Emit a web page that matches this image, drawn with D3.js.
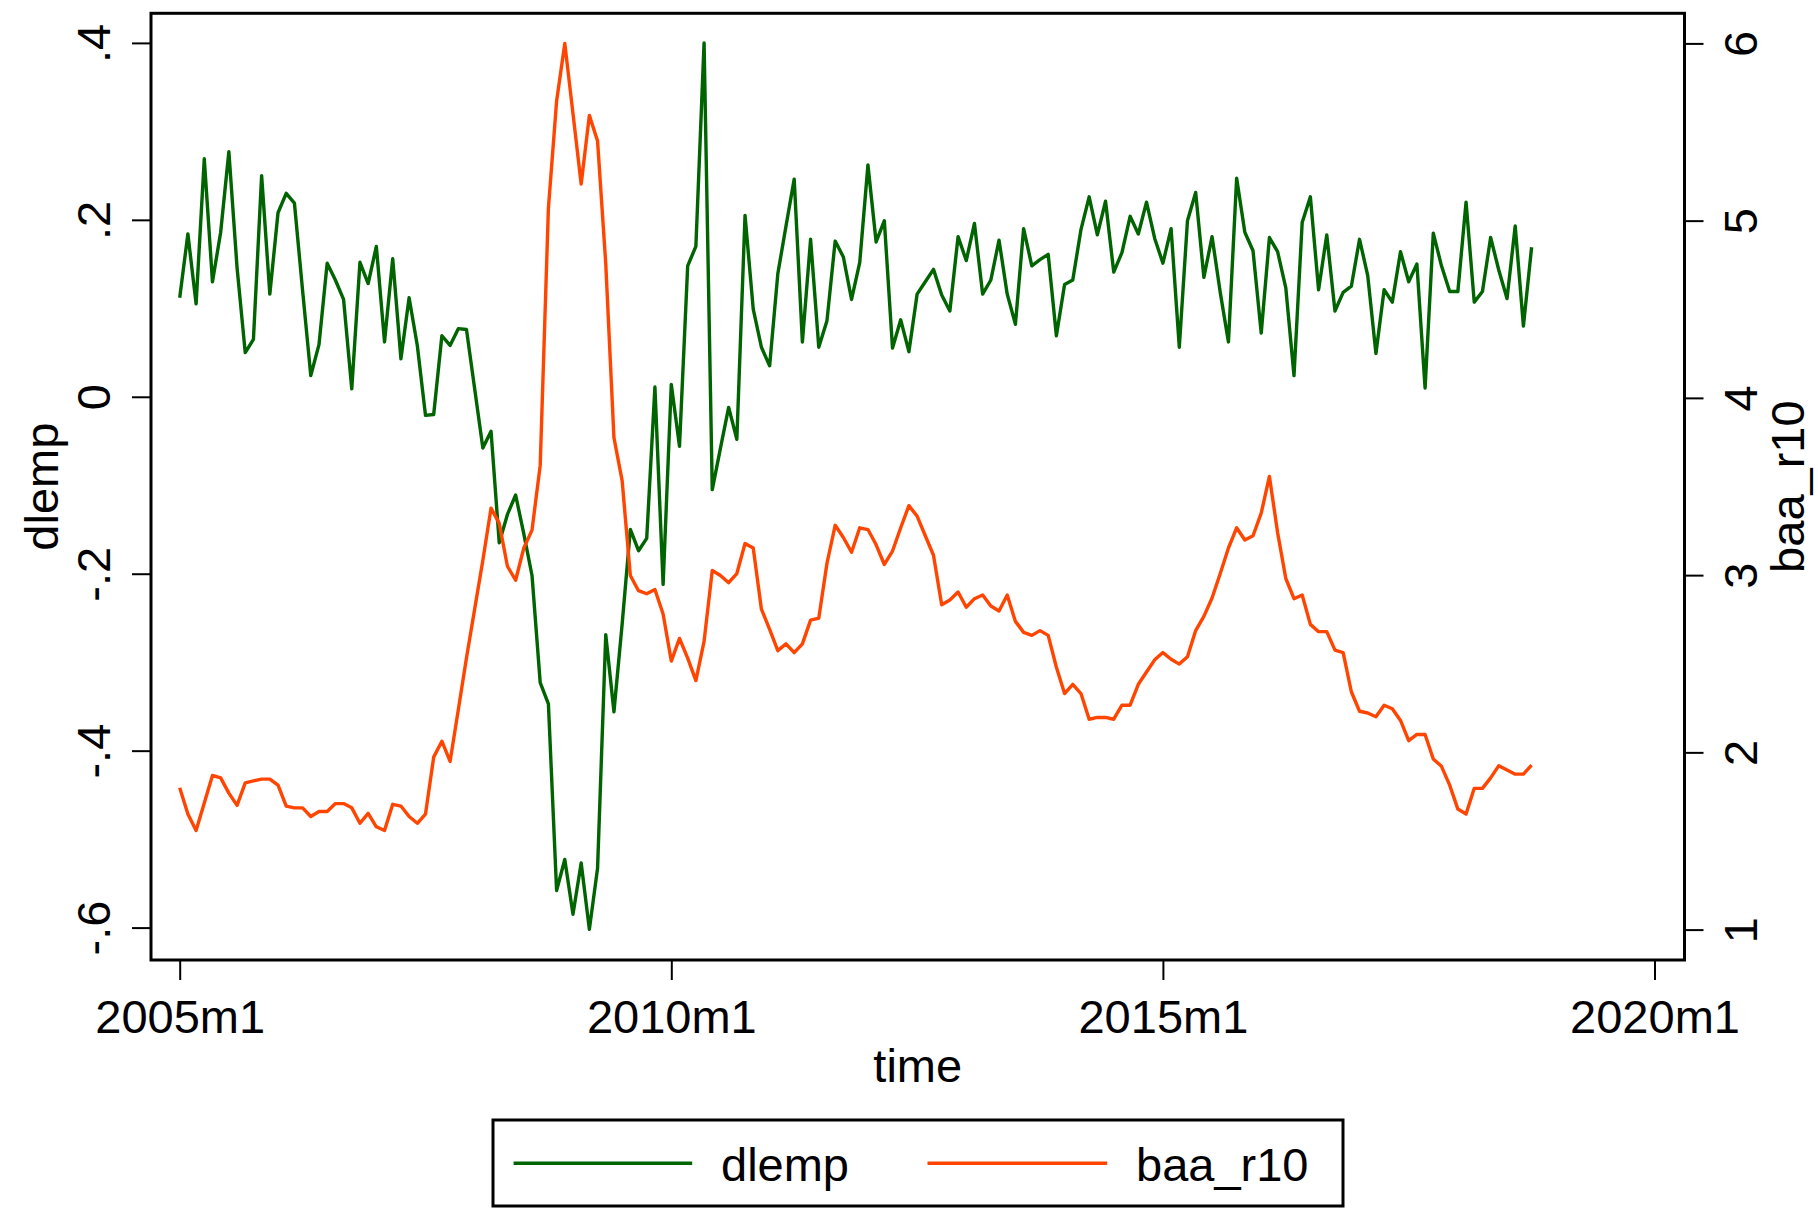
<!DOCTYPE html>
<html>
  <head>
  <meta charset="utf-8">
  <script src="https://cdnjs.cloudflare.com/ajax/libs/d3/7.8.5/d3.min.js" charset="utf-8"></script>
  <style>
    body { margin: 0; background: #fff; }
    text { font-family: "Liberation Sans", Arial, sans-serif; font-size: 47px; fill: #000; }
  </style>
  </head>
  <body>
    <div id="chart"></div>
	<script type="text/javascript">

		// monthly series, first observation 2005m1
		var startYear = 2005;
		var dlemp = [
			0.112, 0.184, 0.105, 0.269, 0.130, 0.186, 0.277, 0.146, 0.050, 0.065, 0.250, 0.116,
			0.208, 0.230, 0.219, 0.120, 0.024, 0.059, 0.151, 0.132, 0.110, 0.009, 0.152, 0.128,
			0.170, 0.062, 0.156, 0.043, 0.112, 0.058, -0.021, -0.020, 0.069, 0.058, 0.077, 0.076,
			0.009, -0.058, -0.039, -0.165, -0.133, -0.111, -0.155, -0.202, -0.323, -0.347, -0.558, -0.523,
			-0.585, -0.527, -0.602, -0.533, -0.269, -0.356, -0.257, -0.150, -0.174, -0.160, 0.011, -0.212,
			0.014, -0.056, 0.148, 0.170, 0.400, -0.105, -0.058, -0.012, -0.048, 0.205, 0.099, 0.056,
			0.035, 0.139, 0.193, 0.246, 0.062, 0.178, 0.056, 0.086, 0.176, 0.158, 0.110, 0.152,
			0.262, 0.175, 0.199, 0.055, 0.087, 0.051, 0.116, 0.130, 0.144, 0.115, 0.097, 0.181,
			0.154, 0.196, 0.116, 0.132, 0.177, 0.116, 0.082, 0.190, 0.148, 0.155, 0.161, 0.069,
			0.127, 0.132, 0.189, 0.226, 0.183, 0.221, 0.141, 0.163, 0.204, 0.184, 0.220, 0.179,
			0.151, 0.190, 0.056, 0.199, 0.231, 0.135, 0.181, 0.118, 0.062, 0.247, 0.186, 0.165,
			0.072, 0.180, 0.164, 0.123, 0.024, 0.197, 0.226, 0.121, 0.183, 0.097, 0.118, 0.125,
			0.178, 0.137, 0.049, 0.121, 0.107, 0.164, 0.130, 0.150, 0.010, 0.185, 0.148, 0.119,
			0.119, 0.220, 0.107, 0.119, 0.180, 0.143, 0.111, 0.193, 0.080, 0.169
		];
		var baa_r10 = [
			1.801, 1.652, 1.559, 1.714, 1.870, 1.856, 1.770, 1.701, 1.828, 1.839, 1.849, 1.849,
			1.815, 1.697, 1.687, 1.687, 1.638, 1.666, 1.666, 1.711, 1.711, 1.687, 1.600, 1.656,
			1.580, 1.559, 1.707, 1.697, 1.638, 1.600, 1.652, 1.973, 2.063, 1.949, 2.239, 2.532,
			2.808, 3.084, 3.378, 3.292, 3.050, 2.971, 3.153, 3.254, 3.619, 5.069, 5.673, 6.000,
			5.604, 5.207, 5.594, 5.449, 4.758, 3.775, 3.533, 2.998, 2.912, 2.895, 2.919, 2.781,
			2.515, 2.643, 2.532, 2.405, 2.626, 3.026, 2.998, 2.957, 3.009, 3.178, 3.153, 2.808,
			2.694, 2.574, 2.612, 2.563, 2.612, 2.746, 2.757, 3.067, 3.281, 3.212, 3.129, 3.267,
			3.257, 3.171, 3.060, 3.136, 3.267, 3.392, 3.333, 3.222, 3.112, 2.833, 2.860, 2.905,
			2.819, 2.867, 2.888, 2.826, 2.798, 2.888, 2.739, 2.677, 2.660, 2.687, 2.660, 2.480,
			2.332, 2.384, 2.332, 2.187, 2.197, 2.197, 2.187, 2.266, 2.266, 2.384, 2.453, 2.522,
			2.563, 2.525, 2.498, 2.539, 2.687, 2.767, 2.871, 3.009, 3.153, 3.267, 3.198, 3.222,
			3.350, 3.557, 3.240, 2.981, 2.867, 2.888, 2.722, 2.681, 2.681, 2.577, 2.563, 2.342,
			2.232, 2.222, 2.201, 2.266, 2.246, 2.180, 2.066, 2.101, 2.101, 1.963, 1.921, 1.815,
			1.680, 1.652, 1.797, 1.797, 1.856, 1.925, 1.901, 1.877, 1.877, 1.928
		];

		var xTickMonths = [0, 60, 120, 180];
		var xTickLabels = ["2005m1", "2010m1", "2015m1", "2020m1"];
		var leftTicks = [-0.6, -0.4, -0.2, 0, 0.2, 0.4];
		var leftTickLabels = ["-.6", "-.4", "-.2", "0", ".2", ".4"];
		var rightTicks = [1, 2, 3, 4, 5, 6];

		var green = "#006400", orange = "#ff4500";

		var W = 1818, H = 1209;
		var frame = {left: 151, right: 1684.5, top: 13.3, bottom: 960};

		var x = d3.scaleLinear().domain([0, 180]).range([179.7, 1654.5]);
		var yL = d3.scaleLinear().domain([-0.6, 0.4]).range([927.6, 42.9]);
		var yR = d3.scaleLinear().domain([1, 6]).range([929.6, 43.4]);

		var svg = d3.select("#chart")
			.append("svg")
			.attr("width", W)
			.attr("height", H);

		svg.append("rect")
			.attr("width", W).attr("height", H)
			.attr("fill", "#fff");

		// plot lines
		var lineL = d3.line()
			.x(function(d, i){ return x(i); })
			.y(function(d){ return yL(d); });
		var lineR = d3.line()
			.x(function(d, i){ return x(i); })
			.y(function(d){ return yR(d); });

		svg.append("path")
			.attr("d", lineL(dlemp))
			.attr("fill", "none")
			.attr("stroke", green)
			.attr("stroke-width", 3.4)
			.attr("stroke-linejoin", "round");

		svg.append("path")
			.attr("d", lineR(baa_r10))
			.attr("fill", "none")
			.attr("stroke", orange)
			.attr("stroke-width", 3.4)
			.attr("stroke-linejoin", "round");

		// frame
		svg.append("rect")
			.attr("x", frame.left)
			.attr("y", frame.top)
			.attr("width", frame.right - frame.left)
			.attr("height", frame.bottom - frame.top)
			.attr("fill", "none")
			.attr("stroke", "#000")
			.attr("stroke-width", 3);

		// axes
		function styleAxis(g){
			g.select(".domain").remove();
			g.selectAll(".tick line").attr("stroke", "#000").attr("stroke-width", 2);
			g.selectAll(".tick text")
				.attr("font-family", null)
				.attr("font-size", null)
				.attr("fill", "#000");
		}

		var gx = svg.append("g")
			.attr("transform", "translate(0," + frame.bottom + ")")
			.call(d3.axisBottom(x)
				.tickValues(xTickMonths)
				.tickSize(20)
				.tickFormat(function(d, i){ return xTickLabels[i]; }));
		styleAxis(gx);
		gx.selectAll(".tick text").attr("y", 73).attr("dy", 0);

		var gl = svg.append("g")
			.attr("transform", "translate(" + frame.left + ",0)")
			.call(d3.axisLeft(yL)
				.tickValues(leftTicks)
				.tickSize(19)
				.tickFormat(function(d, i){ return leftTickLabels[i]; }));
		styleAxis(gl);
		gl.selectAll(".tick text")
			.attr("x", 0).attr("dy", 0)
			.attr("text-anchor", "middle")
			.attr("transform", "translate(-41,0) rotate(-90)");

		var gr = svg.append("g")
			.attr("transform", "translate(" + frame.right + ",0)")
			.call(d3.axisRight(yR)
				.tickValues(rightTicks)
				.tickSize(19)
				.tickFormat(d3.format("d")));
		styleAxis(gr);
		gr.selectAll(".tick text")
			.attr("x", 0).attr("dy", 0)
			.attr("text-anchor", "middle")
			.attr("transform", "translate(72.5,0) rotate(-90)");

		// axis titles
		var midY = (frame.top + frame.bottom) / 2;
		svg.append("text")
			.attr("x", (frame.left + frame.right) / 2)
			.attr("y", 1082)
			.attr("text-anchor", "middle")
			.text("time");
		svg.append("text")
			.attr("text-anchor", "middle")
			.attr("transform", "translate(58," + midY + ") rotate(-90)")
			.text("dlemp");
		svg.append("text")
			.attr("text-anchor", "middle")
			.attr("transform", "translate(1804," + midY + ") rotate(-90)")
			.text("baa_r10");

		// legend
		var legend = svg.append("g");
		legend.append("rect")
			.attr("x", 493).attr("y", 1120)
			.attr("width", 850).attr("height", 86)
			.attr("fill", "#fff")
			.attr("stroke", "#000")
			.attr("stroke-width", 3);
		var keys = [
			{name: "dlemp", color: green, x0: 513.6, x1: 692.2, tx: 721},
			{name: "baa_r10", color: orange, x0: 927.5, x1: 1107.2, tx: 1136}
		];
		keys.forEach(function(k){
			legend.append("line")
				.attr("x1", k.x0).attr("x2", k.x1)
				.attr("y1", 1163.3).attr("y2", 1163.3)
				.attr("stroke", k.color)
				.attr("stroke-width", 3.5);
			legend.append("text")
				.attr("x", k.tx).attr("y", 1181)
				.text(k.name);
		});
	</script>
  </body>
</html>
